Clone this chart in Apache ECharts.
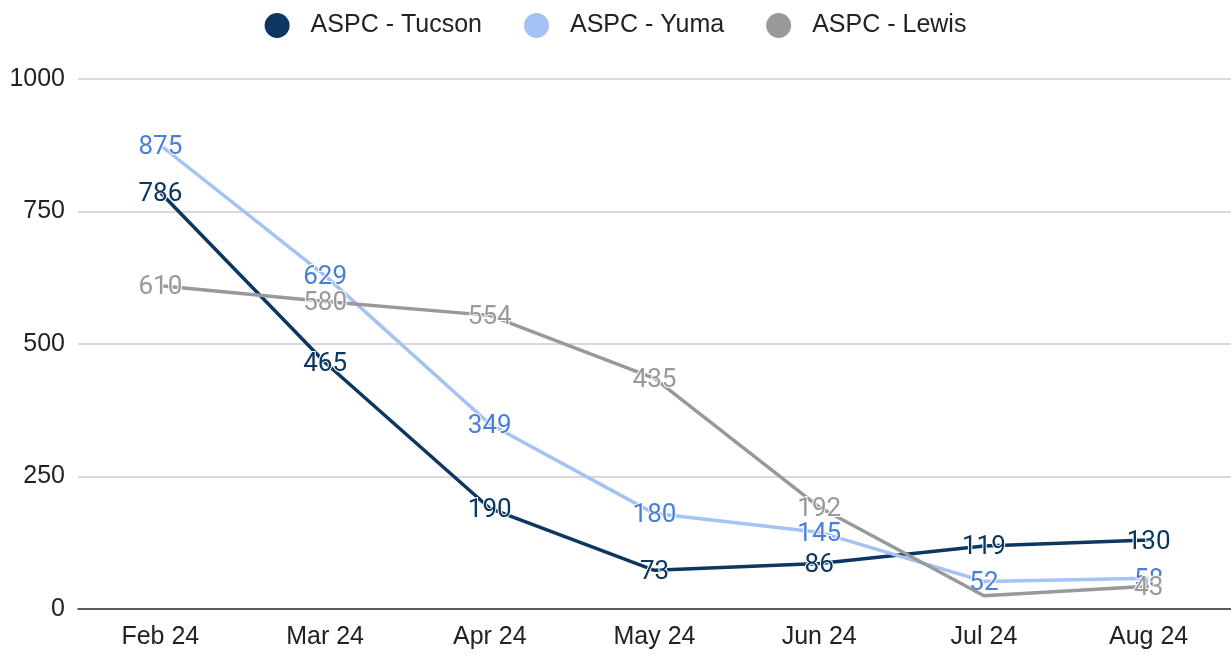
<!DOCTYPE html>
<html><head><meta charset="utf-8">
<script src="https://cdn.jsdelivr.net/npm/echarts@6/dist/echarts.min.js"></script>
<style>html,body{margin:0;padding:0;background:#fff}#c{width:1231px;height:656px}</style>
</head><body><div id="c"></div>
<script>
const categories = ['Feb 24','Mar 24','Apr 24','May 24','Jun 24','Jul 24','Aug 24'];
const tucson = [786, 465, 190, 73, 86, 119, 130];
const yuma = [875, 629, 349, 180, 145, 52, 58];
const lewis = [610, 580, 554, 435, 192, 25, 43];
const yTicks = [0, 250, 500, 750, 1000];
const hiddenLabels = { 'ASPC - Lewis': [5] };

function mk(name, values, color, labelColor, z) {
  const hide = hiddenLabels[name] || [];
  return {
    name, type: 'line', z,
    data: values.map((v, i) => hide.includes(i) ? { value: v, label: { show: false } } : v),
    symbol: 'circle', symbolSize: 1,
    lineStyle: { color, width: 3.5 },
    itemStyle: { color },
    label: {
      show: true, position: 'inside', offset: [0, 2], color: labelColor,
      fontFamily: 'Roboto', fontSize: 26,
      textBorderColor: '#fff', textBorderWidth: 2
    },
    emphasis: { disabled: true }
  };
}
const chart = echarts.init(document.getElementById('c'), null, { renderer: 'canvas' });
chart.setOption({
  animation: false,
  legend: {
    top: 8, left: 'center', icon: 'circle', itemWidth: 25, itemHeight: 25, itemGap: 42,
    textStyle: { fontFamily: 'Liberation Sans', fontSize: 25, color: '#222', padding: [0, 0, 0, 16] },
    data: ['ASPC - Tucson', 'ASPC - Yuma', 'ASPC - Lewis']
  },
  grid: { left: 78, right: 0, top: 79, bottom: 47 },
  xAxis: {
    type: 'category', data: categories,
    axisTick: { show: false },
    axisLine: { lineStyle: { color: '#333', width: 1.5 } },
    axisLabel: { fontFamily: 'Liberation Sans', fontSize: 25, color: '#222', margin: 16 }
  },
  yAxis: {
    type: 'value', min: yTicks[0], max: yTicks[yTicks.length - 1], interval: 250,
    axisLine: { show: false }, axisTick: { show: false },
    splitLine: { lineStyle: { color: '#ccc', width: 1.5 } },
    axisLabel: { fontFamily: 'Liberation Sans', fontSize: 25, color: '#222', margin: 13, formatter: v => String(v) }
  },
  series: [
    mk('ASPC - Tucson', tucson, '#0b3760', '#0b3760', 3),
    mk('ASPC - Yuma', yuma, '#a4c2f4', '#4a7fd9', 4),
    mk('ASPC - Lewis', lewis, '#999999', '#999999', 5)
  ]
});
</script></body></html>
